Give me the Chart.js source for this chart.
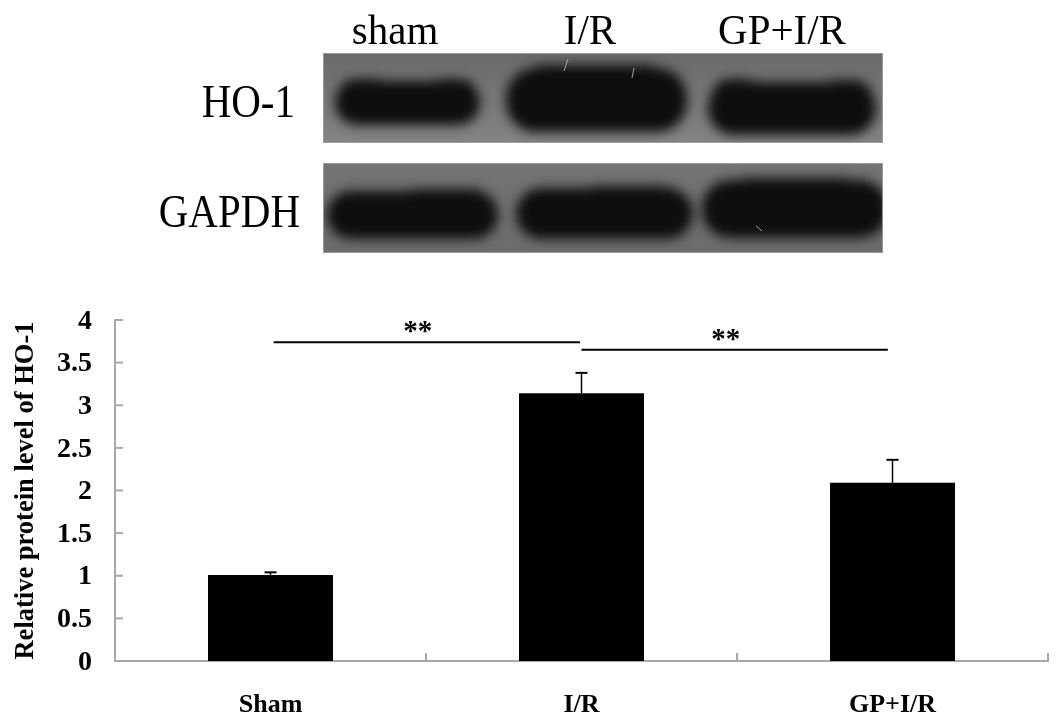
<!DOCTYPE html>
<html><head><meta charset="utf-8">
<style>html,body{margin:0;padding:0;background:#fff}#w{position:relative;width:1063px;height:728px}canvas{display:block}</style>
<script src="https://cdn.jsdelivr.net/npm/chart.js@4/dist/chart.umd.min.js"></script>
</head><body><div id="w"><canvas id="c" width="1063" height="728"></canvas></div>
<script>
const categories = ["Sham", "I/R", "GP+I/R"];
const values = [1.01, 3.14, 2.09];
const errors = [0.03, 0.24, 0.27];
const yTickLabels = ["0", "0.5", "1", "1.5", "2", "2.5", "3", "3.5", "4"];
const yTitle = "Relative protein level of HO-1";
const sigFrom = [0.01, 1.0];
const sigTo = [0.995, 1.985];
const sigY = [3.74, 3.65];
const sigText = ["**", "**"];
const blotLanes = ["sham", "I/R", "GP+I/R"];
const blotRows = ["HO-1", "GAPDH"];

const serif = '"Liberation Serif","Times New Roman",serif';
const grey = '#a8a8a8';

function drawBlot(ctx, x, y, w, h, c1, c2, bands){
  ctx.save();
  const g = ctx.createLinearGradient(0, y, 0, y + h);
  g.addColorStop(0, c1); g.addColorStop(1, c2);
  ctx.fillStyle = g; ctx.fillRect(x, y, w, h);
  ctx.beginPath(); ctx.rect(x, y, w, h); ctx.clip();
  ctx.filter = 'blur(6px)';
  ctx.fillStyle = '#0e0e0e';
  ctx.beginPath();
  bands.forEach(b => { ctx.moveTo(b[0] + b[4], b[1]); ctx.roundRect(b[0], b[1], b[2], b[3], b[4]); });
  ctx.fill('nonzero');
  ctx.filter = 'none';
  ctx.restore();
  ctx.strokeStyle = 'rgba(165,165,165,.8)'; ctx.lineWidth = 1;
  ctx.strokeRect(x + .5, y + .5, w - 1, h - 1);
}
function stretched(ctx, text, x, y, sy){
  ctx.save(); ctx.translate(x, y); ctx.scale(1, sy); ctx.fillText(text, 0, 0); ctx.restore();
}

const decor = {
  id: 'decor',
  beforeDraw(chart){
    const ctx = chart.ctx;
    drawBlot(ctx, 323, 53, 560, 90, '#6a6a6a', '#848484', [
      [335, 81, 145, 44, 22], [338, 79, 55, 34, 20], [425, 79, 52, 34, 20],
      [506, 68, 181, 64, 30], [525, 65, 140, 36, 22],
      [708, 82, 168, 53, 26], [712, 79, 50, 34, 20], [820, 80, 52, 34, 20]
    ]);
    drawBlot(ctx, 323, 163, 560, 90, '#747474', '#6c6c6c', [
      [327, 191, 171, 48, 24], [400, 189, 90, 36, 20],
      [516, 188, 177, 51, 26], [580, 186, 100, 36, 20],
      [702, 180, 186, 58, 28], [730, 178, 130, 36, 20]
    ]);
    ctx.strokeStyle = 'rgba(190,190,190,.8)'; ctx.lineWidth = 1;
    [[568,59,564,71],[634,68,632,78],[756,226,762,231]].forEach(s => {
      ctx.beginPath(); ctx.moveTo(s[0],s[1]); ctx.lineTo(s[2],s[3]); ctx.stroke();
    });
    ctx.fillStyle = '#000';
    ctx.font = '41px ' + serif;
    ctx.textAlign = 'center'; ctx.textBaseline = 'alphabetic';
    const lx = [395, 590, 782];
    blotLanes.forEach((t, i) => stretched(ctx, t, lx[i], 44, 1.05));
    ctx.textAlign = 'right';
    stretched(ctx, blotRows[0], 295, 117, 1.12);
    stretched(ctx, blotRows[1], 300, 227, 1.12);
  },
  afterDatasetsDraw(chart){
    const ctx = chart.ctx, xs = chart.scales.x, ys = chart.scales.y;
    ctx.save();
    ctx.strokeStyle = grey; ctx.lineWidth = 2;
    yTickLabels.forEach(t => {
      const y = ys.getPixelForValue(Number(t));
      ctx.beginPath(); ctx.moveTo(xs.left, y); ctx.lineTo(xs.left + 8, y); ctx.stroke();
    });
    const step = (xs.right - xs.left) / categories.length;
    for (let i = 1; i <= categories.length; i++){
      const x = xs.left + i * step;
      ctx.beginPath(); ctx.moveTo(x, ys.bottom); ctx.lineTo(x, ys.bottom - 8); ctx.stroke();
    }
    ctx.strokeStyle = '#000';
    values.forEach((v, i) => {
      const x = xs.getPixelForValue(i), y0 = ys.getPixelForValue(v), y1 = ys.getPixelForValue(v + errors[i]);
      ctx.lineWidth = 1.5;
      ctx.beginPath(); ctx.moveTo(x, y0); ctx.lineTo(x, y1); ctx.stroke();
      ctx.lineWidth = 2;
      ctx.beginPath(); ctx.moveTo(x - 6, y1); ctx.lineTo(x + 6, y1); ctx.stroke();
    });
    ctx.lineWidth = 2; ctx.fillStyle = '#000';
    ctx.font = 'bold 29px ' + serif; ctx.textAlign = 'center'; ctx.textBaseline = 'alphabetic';
    sigY.forEach((v, i) => {
      const a = xs.getPixelForValue(0) + sigFrom[i] * step, b = xs.getPixelForValue(0) + sigTo[i] * step, y = ys.getPixelForValue(v);
      ctx.beginPath(); ctx.moveTo(a, y); ctx.lineTo(b, y); ctx.stroke();
      ctx.fillText(sigText[i], (a + b) / 2 - 9, y - 2);
    });
    ctx.restore();
  }
};

new Chart(document.getElementById('c'), {
  type: 'bar',
  data: { labels: categories, datasets: [{ data: values, backgroundColor: '#000', borderWidth: 0, barPercentage: 0.402, categoryPercentage: 1 }] },
  options: {
    responsive: false, animation: false,
    layout: { padding: { left: 0, top: 320, right: 15, bottom: 0 } },
    plugins: { legend: { display: false }, tooltip: { enabled: false } },
    scales: {
      x: {
        grid: { display: false, drawTicks: false },
        border: { display: true, color: grey, width: 2 },
        ticks: { color: '#000', font: { family: serif, size: 26, weight: 'bold' }, padding: 29, maxRotation: 0 },
        afterFit(s){ s.height = 67; }
      },
      y: {
        min: 0, max: 4,
        grid: { display: false, drawTicks: false },
        border: { display: true, color: grey, width: 2 },
        ticks: { stepSize: 0.5, color: '#000', font: { family: serif, size: 28, weight: 'bold' }, padding: 23, labelOffset: 1.5,
          callback: (v) => yTickLabels[Math.round(v * 2)] },
        title: { display: true, text: yTitle, color: '#000', font: { family: serif, size: 26.5, weight: 'bold' }, padding: { top: 10, bottom: 0 } },
        afterFit(s){ s.width = 115; }
      }
    }
  },
  plugins: [decor]
});
</script></body></html>
